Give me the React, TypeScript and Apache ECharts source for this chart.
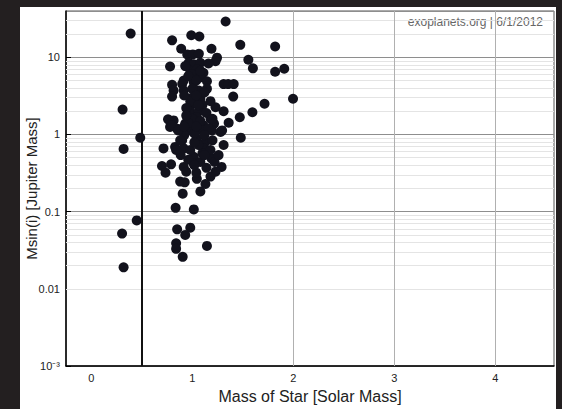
import React, { useEffect, useRef } from "react";
import * as echarts from "echarts";

// Mass of host star [Solar Mass]
const starMass = [
  1.33, 0.80, 0.99, 1.07, 1.475, 1.82, 0.89, 1.19, 0.95, 1.005,
  1.065, 1.245, 1.23, 1.555, 1.60, 1.82, 1.91, 0.78, 0.965, 1.015,
  1.08, 1.16, 0.98, 1.045, 1.11, 1.0, 1.08, 0.915, 0.80, 0.90,
  1.015, 1.145, 1.31, 1.355, 1.41, 0.815, 0.915, 1.065, 1.145, 0.80,
  1.0, 1.08, 1.405, 1.015, 1.10, 1.715, 1.997, 0.98, 1.065, 1.23,
  1.31, 1.595, 0.95, 1.045, 1.18, 1.47, 0.815, 0.93, 1.03, 1.11,
  1.215, 1.36, 0.78, 0.85, 0.965, 1.10, 1.195, 1.28, 0.98, 1.295,
  1.48, 0.90, 1.045, 1.13, 0.715, 0.83, 0.915, 1.11, 1.31, 0.885,
  1.015, 1.10, 0.70, 0.79, 0.915, 1.015, 1.19, 0.735, 1.29, 1.23,
  1.18, 0.88, 0.925, 1.045, 1.13, 1.08, 0.905, 0.835, 1.015, 0.85,
  0.98, 0.93, 0.84, 0.84, 1.145, 0.905,
  0.39, 0.31, 0.485, 0.32, 0.45, 0.305, 0.32,
  0.96, 1.04, 1.12, 0.98, 1.06, 0.94, 1.14, 1.0, 1.08, 0.96,
  1.16, 1.02, 0.92, 1.12, 1.06, 0.98, 1.18, 0.96, 1.08, 1.14,
  0.94, 1.04, 1.22, 1.26, 0.76, 0.80, 0.86, 0.92,
  0.93, 1.08, 1.0, 0.92, 1.04, 1.18, 0.94, 1.20, 1.04, 0.88,
  1.20, 1.02, 1.12, 1.02, 0.84,
];

// Msin(i) [Jupiter Mass]
const planetMass = [
  29.1, 16.6, 19.3, 18.6, 14.5, 13.8, 12.9, 12.9, 10.9, 10.9,
  11.1, 9.9, 8.9, 9.3, 7.2, 6.5, 7.1, 7.6, 8.5, 8.1,
  8.5, 8.3, 6.7, 7.0, 6.3, 6.0, 5.5, 5.0, 4.4, 4.5,
  4.7, 4.9, 4.5, 4.5, 4.5, 3.7, 3.7, 3.7, 3.9, 3.1,
  3.0, 2.9, 3.1, 2.5, 2.4, 2.5, 2.9, 2.0, 2.0, 2.25,
  2.0, 1.94, 1.67, 1.67, 1.6, 1.67, 1.52, 1.38, 1.38, 1.31,
  1.38, 1.42, 1.25, 1.19, 1.13, 1.13, 1.13, 1.08, 1.25, 1.13,
  0.91, 0.84, 0.885, 0.80, 0.66, 0.69, 0.66, 0.66, 0.73, 0.54,
  0.515, 0.57, 0.39, 0.41, 0.38, 0.42, 0.49, 0.32, 0.38, 0.33,
  0.285, 0.245, 0.24, 0.266, 0.228, 0.183, 0.171, 0.112, 0.107, 0.059,
  0.062, 0.050, 0.039, 0.033, 0.036, 0.026,
  20.3, 2.1, 0.91, 0.65, 0.077, 0.052, 0.019,
  5.7, 5.0, 3.5, 2.7, 2.4, 2.2, 1.9, 1.6, 1.5, 1.4,
  1.2, 1.03, 0.98, 0.98, 0.73, 0.63, 0.63, 0.47, 0.44, 0.37,
  0.33, 0.32, 0.44, 0.54, 1.57, 1.31, 1.13, 1.27,
  7.7, 6.7, 3.9, 3.2, 3.2, 2.7, 1.76, 1.6, 1.27, 0.84,
  0.84, 0.79, 0.54, 0.40, 0.63,
];

const xTickValues = [0, 1, 2, 3, 4];
const xGridValues = [2, 3, 4];
const boundaryStarMass = 0.5;
const yDecades = [0.001, 0.01, 0.1, 1, 10];
const minorMultipliers = [2, 3, 4, 5, 6, 7, 8, 9];
const creditText = "exoplanets.org | 6/1/2012";
const xAxisTitle = "Mass of Star [Solar Mass]";
const yAxisTitle = "Msin(i) [Jupiter Mass]";

const FONT = "'Liberation Sans', Arial, sans-serif";

export default function App() {
  const ref = useRef<HTMLDivElement>(null);

  useEffect(() => {
    if (!ref.current) return;
    const chart = echarts.init(ref.current, undefined, { renderer: "svg" });

    const points = starMass.map((m, i) => [m, planetMass[i]]);

    const minorLines: any[] = [];
    yDecades.forEach((d) => {
      minorMultipliers.forEach((k) => {
        const v = d * k;
        if (v < 39) {
          minorLines.push({
            yAxis: v,
            lineStyle: { color: "#e4e4e4", width: 1, type: "solid" },
          });
        }
      });
    });
    const vLines = xGridValues.map((v) => ({
      xAxis: v,
      lineStyle: { color: "#b0b0b0", width: 1, type: "solid" },
    }));

    const yLabel = (v: number) => {
      const lg = Math.log10(v);
      if (Math.abs(lg - Math.round(lg)) > 1e-6) return "";
      const p = Math.round(lg);
      if (p === -3) return "10⁻³";
      if (p > 1) return "";
      return String(Number(v.toPrecision(3)));
    };

    chart.setOption({
      animation: false,
      backgroundColor: "transparent",
      textStyle: { fontFamily: FONT },
      grid: {
        left: 66,
        right: 8,
        top: 11,
        bottom: 38,
        show: true,
        borderColor: "#555",
        borderWidth: 1,
        backgroundColor: "transparent",
      },
      graphic: [
        {
          type: "text",
          right: 19,
          top: 16,
          style: {
            text: creditText,
            fill: "#666",
            fontSize: 12,
            fontFamily: "Liberation Sans",
          },
        },
      ],
      xAxis: {
        type: "value",
        min: -0.25,
        max: 4.58,
        name: xAxisTitle,
        nameLocation: "middle",
        nameGap: 22,
        nameMoveOverlap: false,
        nameTextStyle: { fontSize: 16, color: "#222", fontFamily: FONT, verticalAlign: "top" },
        axisLine: { show: true, onZero: false, lineStyle: { color: "#000", width: 1.5 } },
        axisTick: { show: false },
        splitLine: { show: false },
        axisLabel: {
          customValues: xTickValues,
          fontSize: 11,
          color: "#222",
          margin: 6,
          fontFamily: FONT,
        },
      },
      yAxis: {
        type: "log",
        logBase: 10,
        min: 0.001,
        max: 39.8,
        name: yAxisTitle,
        nameLocation: "middle",
        nameGap: 27,
        nameMoveOverlap: false,
        nameTextStyle: { fontSize: 15, color: "#222", fontFamily: FONT },
        axisLine: { show: true, onZero: false, lineStyle: { color: "#000", width: 1.5 } },
        axisTick: { show: true, inside: true, length: 5, lineStyle: { color: "#000" } },
        splitLine: { show: true, lineStyle: { color: "#8e8e8e", width: 1 } },
        axisLabel: {
          formatter: yLabel,
          fontSize: 11,
          color: "#222",
          margin: 6,
          fontFamily: FONT,
          showMaxLabel: false,
        },
      },
      series: [
        {
          type: "scatter",
          data: points,
          symbol: "circle",
          symbolSize: 10,
          z: 3,
          itemStyle: { color: "#12121c", opacity: 1 },
          markLine: {
            silent: true,
            z: 1,
            symbol: ["none", "none"],
            label: { show: false },
            animation: false,
            data: [
              ...minorLines,
              ...vLines,
              {
                xAxis: boundaryStarMass,
                lineStyle: { color: "#111", width: 2, type: "solid" },
              },
            ],
          },
        },
      ],
    });

    return () => chart.dispose();
  }, []);

  return (
    <div
      style={{
        position: "absolute",
        left: 0,
        top: 0,
        width: 562,
        height: 409,
        background: "#231f20",
        overflow: "hidden",
      }}
    >
      <div
        style={{
          position: "absolute",
          left: 20,
          top: 7,
          width: 536,
          height: 402,
          background: "#ffffff",
        }}
      />
      <div
        ref={ref}
        style={{ position: "absolute", left: 0, top: 0, width: 562, height: 409 }}
      />
    </div>
  );
}
